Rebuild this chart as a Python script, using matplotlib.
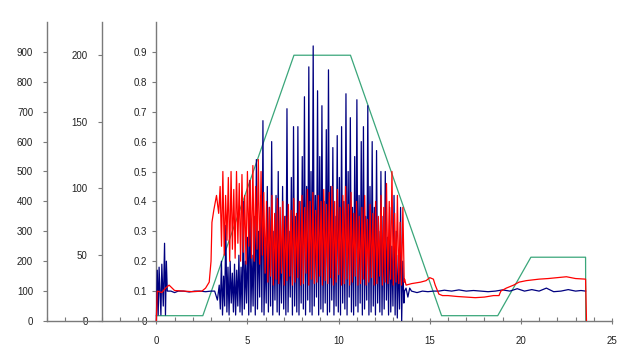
import numpy as np
import matplotlib
matplotlib.use("Agg")
import matplotlib.pyplot as plt
from matplotlib.ticker import FixedLocator, MultipleLocator

# ---------------- data ----------------
# green trace (middle axis, 0-225)
green_t = [0.0, 2.55, 7.55, 10.65, 15.65, 18.73, 20.55, 23.55, 23.56]
green_v = [4, 4, 200, 200, 4, 4, 48, 48, 0]

# blue trace (inner axis, 0-1)
blue_start_t = [0.0, 0.05, 0.1, 0.15, 0.2, 0.25, 0.3, 0.38, 0.45, 0.5, 0.55, 0.6,
                0.8, 1.0, 1.2, 1.5, 1.8, 2.1, 2.4, 2.7, 3.0, 3.2, 3.35]
blue_start_v = [0.0, 0.17, 0.02, 0.18, 0.1, 0.02, 0.19, 0.05, 0.26, 0.02, 0.2, 0.1,
                0.1, 0.095, 0.1, 0.1, 0.097, 0.1, 0.1, 0.098, 0.1, 0.1, 0.07]
blue_peaks = [0.12, 0.2, 0.15, 0.32, 0.18, 0.2, 0.16, 0.19, 0.17, 0.22,
              0.18, 0.4, 0.2, 0.28, 0.47, 0.22, 0.35, 0.54, 0.3, 0.42,
              0.67, 0.25, 0.45, 0.38, 0.6, 0.3, 0.42, 0.5, 0.28, 0.45,
              0.35, 0.71, 0.3, 0.48, 0.65, 0.35, 0.65, 0.4, 0.55, 0.75,
              0.45, 0.85, 0.5, 0.92, 0.42, 0.77, 0.55, 0.72, 0.4, 0.64,
              0.84, 0.45, 0.58, 0.35, 0.62, 0.48, 0.65, 0.4, 0.76, 0.5,
              0.68, 0.38, 0.55, 0.74, 0.42, 0.6, 0.65, 0.35, 0.72, 0.45,
              0.6, 0.38, 0.57, 0.3, 0.5, 0.35, 0.5, 0.28, 0.38, 0.25,
              0.42, 0.3, 0.22, 0.38, 0.2]
blue_troughs = [0.04, 0.02, 0.05, 0.03, 0.02, 0.06, 0.03, 0.02, 0.05, 0.03,
                0.02, 0.04, 0.06, 0.02, 0.03, 0.05, 0.02, 0.04, 0.08, 0.03,
                0.02, 0.06, 0.03, 0.05, 0.02, 0.07, 0.03, 0.02, 0.06, 0.04,
                0.02, 0.03, 0.08, 0.02, 0.05, 0.03, 0.02, 0.06, 0.04, 0.02,
                0.07, 0.03, 0.02, 0.05, 0.08, 0.02, 0.04, 0.03, 0.06, 0.02,
                0.03, 0.07, 0.02, 0.05, 0.03, 0.02, 0.06, 0.04, 0.02, 0.08,
                0.03, 0.02, 0.05, 0.03, 0.06, 0.02, 0.04, 0.07, 0.02, 0.03,
                0.05, 0.02, 0.06, 0.03, 0.02, 0.04, 0.07, 0.02, 0.03, 0.05,
                0.02, 0.01, 0.04, 0.0, 0.06]
blue_end_t = [13.62, 13.7, 13.8, 13.9, 14.0, 14.3, 14.6, 14.9, 15.2, 15.5, 15.8,
              16.2, 16.6, 17.0, 17.4, 17.8, 18.2, 18.6, 19.0, 19.4, 19.8, 20.2,
              20.6, 21.0, 21.4, 21.8, 22.2, 22.6, 23.0, 23.3, 23.55]
blue_end_v = [0.1, 0.11, 0.08, 0.11, 0.1, 0.095, 0.1, 0.098, 0.1, 0.1, 0.103,
              0.1, 0.104, 0.1, 0.102, 0.1, 0.098, 0.1, 0.104, 0.1, 0.108, 0.1,
              0.105, 0.1, 0.11, 0.098, 0.1, 0.105, 0.1, 0.102, 0.1]

# red trace (outer axis, 0-1000)
red_start_t = [0.0, 0.05, 0.3, 0.5, 0.7, 1.0, 1.5, 2.0, 2.5, 2.7, 2.9, 3.0,
               3.05, 3.15, 3.3, 3.42]
red_start_v = [0, 100, 95, 110, 120, 102, 100, 98, 100, 110, 130, 200,
               330, 370, 420, 360]
red_peaks = [450, 500, 420, 480, 500, 440, 500, 460, 490, 420,
             500, 470, 520, 450, 540, 500, 430, 400, 380, 420,
             360, 410, 380, 400, 350, 390, 370, 410, 360, 400,
             420, 380, 440, 400, 430, 370, 420, 400, 440, 390,
             430, 450, 400, 440, 380, 420, 450, 390, 430, 360,
             400, 350, 380, 420, 340, 390, 360, 400, 350, 420,
             380, 460, 400, 500, 360, 420, 330, 380]
red_troughs = [250, 220, 270, 200, 240, 210, 260, 200, 230, 190,
               250, 210, 200, 240, 190, 220, 160, 130, 150, 120,
               140, 125, 160, 120, 135, 150, 120, 130, 145, 120,
               125, 160, 120, 140, 125, 130, 150, 120, 135, 125,
               145, 120, 130, 155, 120, 125, 140, 120, 130, 150,
               120, 125, 140, 120, 130, 145, 120, 125, 150, 120,
               130, 125, 140, 120, 130, 125, 120, 130]
red_end_t = [13.62, 13.7, 14.0, 14.5, 14.8, 15.0, 15.2, 15.3, 15.5, 15.7, 16.0,
             16.5, 17.0, 17.5, 18.0, 18.5, 18.8, 18.9, 19.2, 19.6, 19.9, 20.3,
             21.0, 21.5, 22.0, 22.5, 23.0, 23.55, 23.6]
red_end_v = [140, 120, 125, 130, 135, 145, 140, 120, 90, 85, 85,
             82, 80, 78, 80, 85, 85, 100, 110, 120, 130, 135,
             140, 142, 145, 148, 142, 140, 0]

x_major = [0, 5, 10, 15, 20, 25]
inner_ticks = [0, 0.1, 0.2, 0.3, 0.4, 0.5, 0.6, 0.7, 0.8, 0.9]
inner_labels = ["0", "0.1", "0.2", "0.3", "0.4", "0.5", "0.6", "0.7", "0.8", "0.9"]
mid_ticks = [0, 50, 100, 150, 200]
outer_ticks = [0, 100, 200, 300, 400, 500, 600, 700, 800, 900]

# ---------------- assemble series ----------------
bt = np.linspace(3.45, 13.58, 2 * len(blue_peaks))
bv = np.empty(2 * len(blue_peaks))
bv[0::2] = blue_peaks
bv[1::2] = blue_troughs
blue_t = np.concatenate([blue_start_t, bt, blue_end_t])
blue_v = np.concatenate([blue_start_v, bv, blue_end_v])

rt = np.linspace(3.5, 13.6, 2 * len(red_peaks))
rv = np.empty(2 * len(red_peaks))
rv[0::2] = red_peaks
rv[1::2] = red_troughs
red_t = np.concatenate([red_start_t, rt, red_end_t])
red_v = np.concatenate([red_start_v, rv, red_end_v])

# ---------------- style ----------------
plt.rcParams['font.family'] = ['Liberation Sans', 'DejaVu Sans']
FS = 7
SPINE = '#7a7a7a'
TXT = '#222222'
GREEN = '#3aa67a'
BLUE = '#000080'
RED = '#ff0000'

fig = plt.figure(figsize=(6.32, 3.64), dpi=100)
fig.patch.set_facecolor('white')
ax = fig.add_axes([47 / 632, 43 / 364, 565 / 632, 299 / 364])
ax_mid = ax.twinx()
ax_out = ax.twinx()

for a, pad in ((ax, 4), (ax_mid, 7), (ax_out, 7)):
    a.set_xlim(-6, 25)
    a.patch.set_visible(False)
    for s in ('top', 'right'):
        a.spines[s].set_visible(False)
    a.spines['left'].set_color(SPINE)
    a.spines['left'].set_linewidth(1.0)
    a.yaxis.set_ticks_position('left')
    a.yaxis.set_label_position('left')
    a.tick_params(axis='y', direction='out', length=3, width=0.8, color=SPINE,
                  labelsize=FS, labelcolor=TXT, pad=pad)

for a in (ax_mid, ax_out):
    a.spines['bottom'].set_visible(False)

ax.spines['left'].set_position(('data', 0))
ax_mid.spines['left'].set_position(('data', -3))
ax_out.spines['left'].set_position(('axes', 0))

ax.set_ylim(0, 1.0)
ax.set_yticks(inner_ticks)
ax.set_yticklabels(inner_labels)
ax_mid.set_ylim(0, 225)
ax_mid.set_yticks(mid_ticks)
ax_out.set_ylim(0, 1000)
ax_out.set_yticks(outer_ticks)

ax.spines['bottom'].set_color(SPINE)
ax.spines['bottom'].set_linewidth(1.0)
ax.xaxis.set_major_locator(FixedLocator(x_major))
ax.xaxis.set_minor_locator(MultipleLocator(1))
ax.tick_params(axis='x', which='major', direction='inout', length=5, width=0.8,
               color=SPINE, labelsize=FS, labelcolor=TXT, pad=8)
ax.tick_params(axis='x', which='minor', direction='in', length=3, width=0.8,
               color=SPINE)

# ---------------- lines ----------------
ax_mid.plot(green_t, green_v, color=GREEN, lw=0.9, zorder=2)
ax.plot(blue_t, blue_v, color=BLUE, lw=0.9, zorder=3)
ax_out.plot(red_t, red_v, color=RED, lw=0.9, zorder=4)
ax_out.set_zorder(ax.get_zorder() + 2)
ax_mid.set_zorder(ax.get_zorder() - 1)
ax.patch.set_visible(False)

fig.savefig('out.png', dpi=100, facecolor='white')
